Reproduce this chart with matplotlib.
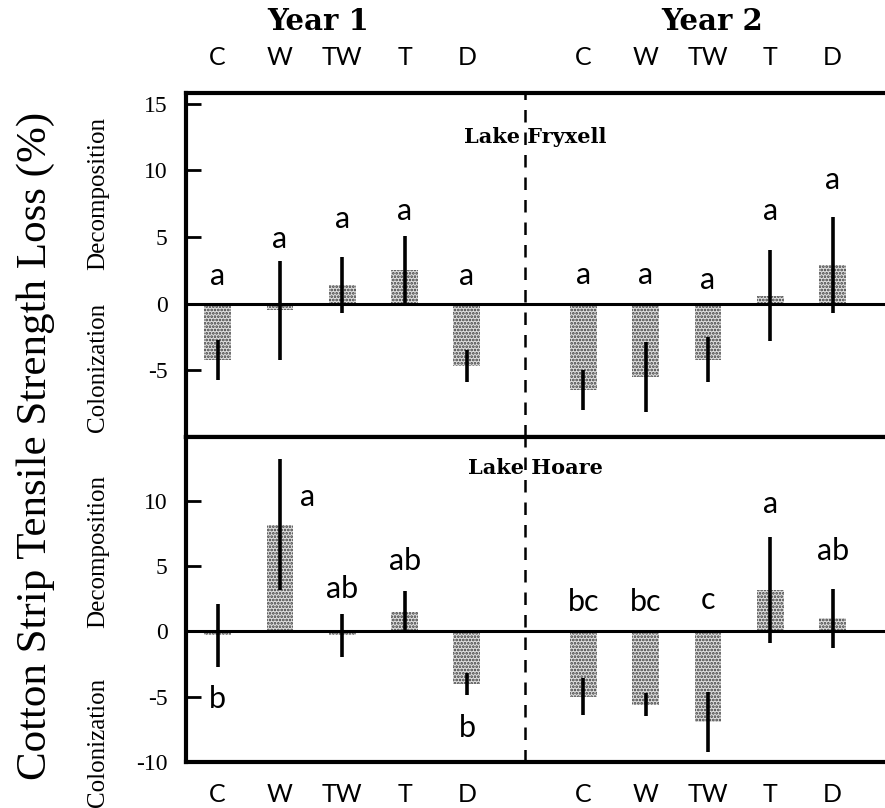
import numpy as np
import matplotlib.pyplot as plt

treatments = ['C', 'W', 'TW', 'T', 'D']
years = ['Year 1', 'Year 2']

# mean tensile strength loss (%) and SE, Year 1 treatments then Year 2
fryxell_mean = [-4.2, -0.5, 1.4, 2.5, -4.7, -6.5, -5.5, -4.2, 0.6, 2.9]
fryxell_se = [1.5, 3.7, 2.1, 2.6, 1.2, 1.5, 2.6, 1.7, 3.4, 3.6]
fryxell_groups = ['a', 'a', 'a', 'a', 'a', 'a', 'a', 'a', 'a', 'a']

hoare_mean = [-0.3, 8.2, -0.3, 1.5, -4.0, -5.0, -5.6, -6.9, 3.2, 1.0]
hoare_se = [2.4, 5.0, 1.65, 1.6, 0.85, 1.4, 0.9, 2.3, 4.05, 2.25]
hoare_groups = ['b', 'a', 'ab', 'ab', 'b', 'bc', 'bc', 'c', 'a', 'ab']

# where the significance letters sit (x shift, baseline)
fryxell_letter_pos = [(0, 1.4), (0, 4.2), (0, 5.7), (0, 6.3), (0, 1.4),
                      (0, 1.45), (0, 1.45), (0, 1.1), (0, 6.3), (0, 8.6)]
hoare_letter_pos = [(0, -5.85), (0.45, 9.6), (0, 2.55), (0, 4.75), (0, -8.05),
                    (0, 1.55), (0, 1.55), (0, 1.7), (0, 9.1), (0, 5.45)]

x = np.concatenate([np.arange(5), np.arange(5) + 5.87])
xlim = (-0.51, 10.71)
split = 4.93

plt.rcParams['hatch.linewidth'] = 1.3
serif = 'Liberation Serif'
sans = 'Lato'

fig = plt.figure(figsize=(8.85, 8.08), dpi=100)
ax_top = fig.add_axes([0.210, 0.459, 0.79, 0.426])
ax_bot = fig.add_axes([0.210, 0.057, 0.79, 0.402])


def draw_panel(ax, mean, se, groups, letter_pos, lake, lake_y, ylim, yticks):
    mean = np.array(mean)
    se = np.array(se)
    ax.bar(x, mean, width=0.43, color='#e0e0e0', edgecolor='#383838',
           hatch='.....', linewidth=0, zorder=2)
    ax.vlines(x, mean - se, mean + se, color='black', lw=2.6, zorder=3)
    ax.axhline(0, color='black', lw=2.2, zorder=4)
    ax.axvline(split, color='black', lw=1.8, ls=(0, (5, 4)), zorder=1)
    for xi, g, (dx, yb) in zip(x, groups, letter_pos):
        ax.text(xi + dx, yb, g, ha='center', va='baseline',
                fontsize=22, family=sans)
    ax.text(5.1, lake_y, lake, ha='center', va='center',
            fontsize=15, family='DejaVu Serif', fontweight='bold')
    ax.set_xlim(*xlim)
    ax.set_ylim(*ylim)
    ax.set_yticks(yticks)
    ax.set_yticklabels([str(t) for t in yticks], family=serif, fontsize=17)
    ax.tick_params(axis='y', direction='in', length=11, width=2, pad=13)
    ax.spines['right'].set_visible(False)
    for s in ['left', 'top', 'bottom']:
        ax.spines[s].set_linewidth(3)


draw_panel(ax_top, fryxell_mean, fryxell_se, fryxell_groups, fryxell_letter_pos,
           'Lake Fryxell', 12.5, (-10, 15.8), [15, 10, 5, 0, -5])
draw_panel(ax_bot, hoare_mean, hoare_se, hoare_groups, hoare_letter_pos,
           'Lake Hoare', 12.5, (-10, 14.9), [10, 5, 0, -5, -10])

labels = treatments * 2
ax_top.xaxis.tick_top()
ax_top.set_xticks(x)
ax_top.set_xticklabels(labels, family=sans, fontsize=18)
ax_top.tick_params(axis='x', length=0, pad=17)
ax_bot.set_xticks(x)
ax_bot.set_xticklabels(labels, family=sans, fontsize=18)
ax_bot.tick_params(axis='x', length=0, pad=15)

for yr, xc in zip(years, [318, 712]):
    fig.text(xc / 885, 1 - 22 / 808, yr, ha='center', va='center',
             fontsize=21, family='DejaVu Serif', fontweight='bold')

fig.text(36 / 885, 1 - 446 / 808, 'Cotton Strip Tensile Strength Loss (%)',
         rotation=90, ha='center', va='center', fontsize=31, family=serif)
for lab, yc in [('Decomposition', 193), ('Colonization', 367),
                ('Decomposition', 551), ('Colonization', 742)]:
    fig.text(98 / 885, 1 - yc / 808, lab, rotation=90, ha='center',
             va='center', fontsize=18, family=serif)

fig.savefig('out.png', dpi=100)
